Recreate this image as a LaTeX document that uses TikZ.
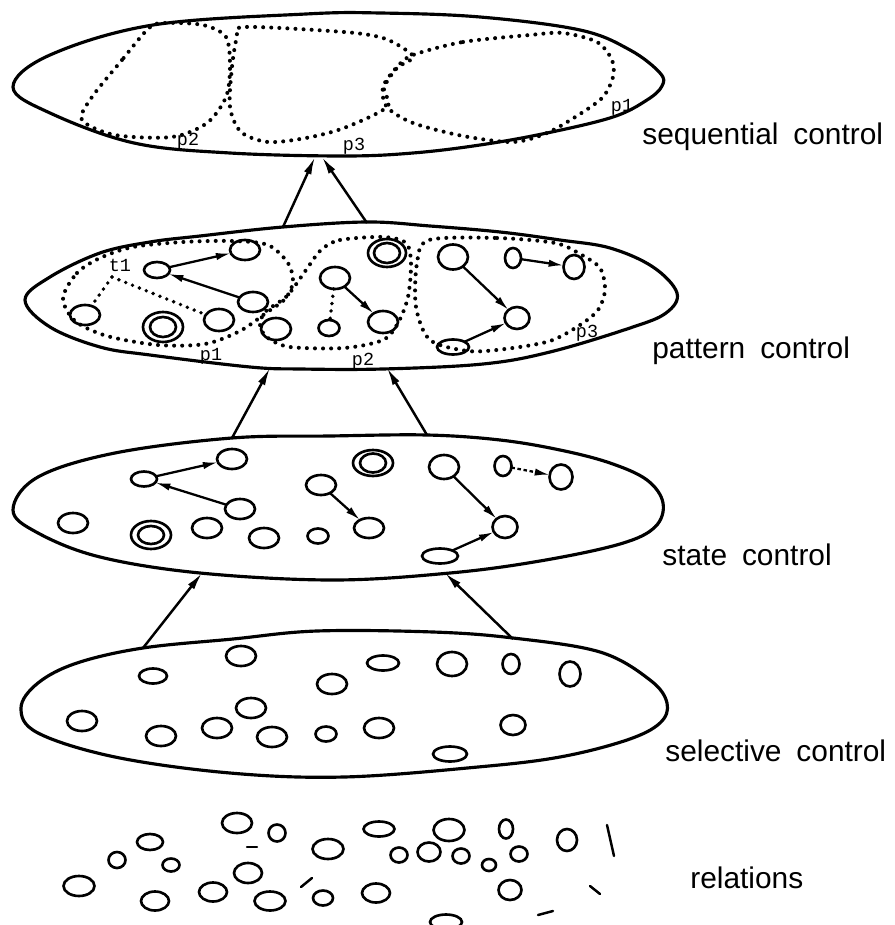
\documentclass[tikz,border=0pt]{standalone}
\usepackage{fontspec}
\setmainfont{Liberation Sans}
\newfontfamily\tagfont{Liberation Mono}
\usetikzlibrary{shapes.geometric,arrows.meta}

\tikzset{
  layer/.style={line width=1.8pt, line join=round},
  blob/.style={draw, ellipse, line width=1.5pt, inner sep=0pt, outer sep=0pt},
  region/.style={line width=2.3pt, line cap=round, dash pattern=on 0pt off 4.6pt},
  dotlink/.style={line width=2.2pt, line cap=round, dash pattern=on 0pt off 4.2pt},
  link/.style={line width=1.3pt, -{Latex[length=8.5pt,width=4.2pt]}},
  dashlink/.style={line width=1.3pt, dash pattern=on 2pt off 1.5pt, -{Latex[length=8.5pt,width=4.2pt]}},
  lift/.style={line width=1.4pt, -{Latex[length=10pt,width=4.5pt]}},
  stroke/.style={line width=1.4pt, line cap=round},
  caption/.style={anchor=base west, font=\fontsize{17}{20}\selectfont, inner sep=0pt},
  tag/.style={font=\tagfont\fontsize{10.5}{12}\selectfont, inner sep=0pt},
}

% \blob{name}{x,y}{rx}{ry}: a small hand-drawn style oval
\newcommand\blob[4]{\node[blob, minimum width=#3*0.04cm, minimum height=#4*0.04cm] (#1) at (#2) {};}

\begin{document}
\begin{tikzpicture}[x=0.02cm, y=-0.02cm]
\useasboundingbox (0,0) rectangle (894,925);

%% ---------------- sequential control ----------------
\draw[layer] plot[smooth cycle, tension=0.6] coordinates {
  (13,87) (50,55) (153,25) (306,14) (380,13) (480,17) (580,30) (630,50)
  (660,73) (662,86) (647,100) (613,117) (547,133) (480,145) (413,153)
  (344,156) (230,153) (134,143) (50,113)};
% pattern groups p2, p3, p1
\draw[region] plot[smooth cycle] coordinates {
  (149,28) (122,60) (92,97) (82,120) (115,135) (172,137) (207,123)
  (226,97) (230,67) (226,37) (203,25) (165,23)};
\draw[region] plot[smooth cycle] coordinates {
  (245,27) (344,32) (383,38) (406,50) (413,58) (397,68) (384,88) (387,107)
  (344,128) (306,138) (268,142) (241,132) (230,107) (232,67) (237,37)};
\draw[region] plot[smooth cycle] coordinates {
  (413,55) (463,42) (530,35) (563,33) (597,42) (612,60) (613,77) (603,97)
  (580,114) (547,133) (513,142) (463,136) (413,123) (387,107) (383,87) (397,67)};
\node[tag] (sq2) at (188,141) {p2};
\node[tag] (sq3) at (354,146) {p3};
\node[tag] (sq1) at (622,107) {p1};
\node[caption] (capseq) at (642,145) {sequential\hspace{0.5em}control};

%% ---------------- pattern control ----------------
\draw[layer] plot[smooth cycle, tension=0.6] coordinates {
  (25,300) (50,277) (100,253) (150,242) (200,236) (283,227) (367,222)
  (430,226) (500,232) (560,240) (610,248) (653,267) (677,293) (666,313)
  (630,328) (550,352) (483,364) (383,369) (300,369) (250,367)
  (150,355) (100,347) (50,327)};
\draw[region] plot[smooth cycle] coordinates {
  (63,298) (77,273) (100,258) (133,247) (183,242) (233,241) (268,245)
  (288,263) (293,282) (285,299) (266,313) (240,331) (205,344) (158,345)
  (107,336) (75,321)};
\draw[region] plot[smooth cycle] coordinates {
  (321,250) (340,240) (383,237) (406,243) (411,263) (408,297) (398,323)
  (383,340) (344,348) (290,347) (268,338) (260,326) (265,312) (287,296) (306,270)};
\draw[region] plot[smooth cycle] coordinates {
  (429,240) (497,238) (555,243) (580,254) (600,268) (605,290) (598,310)
  (580,325) (550,341) (505,349) (468,351) (430,340) (416,307) (417,263)};

\blob{pa}{157,270}{13}{8}
\blob{pb}{245,250}{15}{10}
\blob{pc}{253,302}{15}{10}
\blob{pd}{85,315}{15}{10}
\blob{pe}{163,327}{20}{15}
\blob{pee}{163,327}{13}{10}
\blob{pf}{219,320}{15}{11}
\blob{pg}{276,329}{15}{11}
\blob{ph}{335,278}{15}{11}
\blob{pi}{329,328}{10.5}{8}
\blob{pj}{383,322}{15}{11}
\blob{pk}{387,253}{19}{14}
\blob{pkk}{387,253}{13}{10}
\blob{pl}{453,257}{15}{12.5}
\blob{pm}{513,258}{8}{10}
\blob{pn}{574,267}{10.5}{12}
\blob{po}{517,318}{12.5}{11}
\blob{pq}{453,347}{16}{7.5}

\draw[link] (pa) -- (pb);
\draw[link] (pc) -- (pa);
\draw[link] (ph) -- (pj);
\draw[link] (pl) -- (po);
\draw[link] (pm) -- (pn);
\draw[link] (pq) -- (po);
\coordinate (tone) at (112,277);
\draw[dotlink] (tone) -- (pd);
\draw[dotlink] (tone) -- (pf);
\draw[dotlink] (ph) -- (pi);

\node[tag] (ttl) at (120,265) {t1};
\node[tag] (pp1) at (211,356) {p1};
\node[tag] (pp2) at (363,361) {p2};
\node[tag] (pp3) at (587,333) {p3};
\node[caption] (cappat) at (652,358) {pattern\hspace{0.5em}control};

%% ---------------- state control ----------------
\draw[layer] plot[smooth cycle, tension=0.6] coordinates {
  (13,510) (38,477) (115,453) (232,438) (330,436) (427,435) (500,440)
  (560,450) (610,463) (647,480) (663,503) (655,527) (620,544)
  (540,561) (450,573) (333,580) (200,573) (100,557) (38,533)};

\blob{sa}{144,479}{13}{7.5}
\blob{sb}{232,459}{15}{10}
\blob{sc}{240,509}{15}{10}
\blob{sd}{73,523}{15}{10}
\blob{se}{151,535}{20}{14}
\blob{see}{151,535}{13}{9}
\blob{sf}{207,528}{15}{10}
\blob{sg}{264,538}{15}{10}
\blob{sh}{318,536}{10.5}{7.5}
\blob{si}{321,485}{15}{10}
\blob{sj}{369,528}{15}{10}
\blob{sk}{373,463}{20}{13}
\blob{skk}{373,463}{13}{9.5}
\blob{sl}{444,467}{15}{12}
\blob{sm}{503,466}{8.5}{10}
\blob{sn}{561,477}{11.5}{12.5}
\blob{so}{505,527}{12.5}{11}
\blob{sq}{440,556}{18}{7.5}

\draw[link] (sa) -- (sb);
\draw[link] (sc) -- (sa);
\draw[link] (si) -- (sj);
\draw[link] (sl) -- (so);
\draw[dashlink] (sm) -- (sn);
\draw[link] (sq) -- (so);
\node[caption] (capsta) at (662,565) {state\hspace{0.5em}control};

%% ---------------- selective control ----------------
\draw[layer] plot[smooth cycle, tension=0.6] coordinates {
  (21,708) (38,683) (77,663) (143,648) (233,639) (317,631) (433,632)
  (513,638) (600,652) (650,680) (667,703) (660,723) (627,740) (560,757)
  (478,767) (344,777) (230,773) (115,757) (38,733)};

\blob{ca}{153,676}{14}{7.5}
\blob{cb}{241,656}{15}{10}
\blob{cc}{383,663}{16}{7.5}
\blob{cd}{332,684}{15}{10}
\blob{ce}{452,664}{15}{12}
\blob{cf}{511,664}{8.5}{10}
\blob{cg}{570,674}{10.5}{12.5}
\blob{ch}{251,708}{15}{10}
\blob{ci}{82,721}{15}{10}
\blob{cj}{161,736}{15}{10}
\blob{ck}{217,728}{15}{10}
\blob{cl}{272,737}{15}{10}
\blob{cm}{326,734}{10.5}{7.5}
\blob{cn}{379,728}{15}{10}
\blob{co}{513,725}{12.5}{10}
\blob{cq}{450,754}{17}{7.5}
\node[caption] (capsel) at (665,761) {selective\hspace{0.5em}control};

%% ---------------- relations ----------------
\blob{ra}{237,823}{15}{10}
\blob{rb}{277,833}{8.5}{8.5}
\blob{rc}{150,842}{13}{8}
\blob{rd}{117,860}{8.5}{8}
\blob{re}{171,865}{8.5}{6.5}
\blob{rf}{379,829}{15.5}{7.5}
\blob{rg}{449,830}{15.5}{11}
\blob{rh}{506,829}{7}{9.5}
\blob{ri}{567,840}{10}{11}
\blob{rj}{328,849}{15.5}{10}
\blob{rk}{399,855}{8.5}{7.5}
\blob{rl}{429,852}{11.5}{9.5}
\blob{rm}{461,856}{8.5}{7.5}
\blob{rn}{489,865}{7}{6}
\blob{ro}{519,854}{8.5}{7.5}
\blob{rp}{248,873}{14}{10}
\blob{rq}{79,886}{15.5}{10}
\blob{rr}{155,901}{14}{9.5}
\blob{rs}{213,892}{14}{9.5}
\blob{rt}{270,901}{15.5}{9.5}
\blob{ru}{323,898}{10}{7.5}
\blob{rv}{376,893}{14}{9.5}
\blob{rw}{510,890}{11.5}{10}
\blob{rx}{446,922}{16}{7.5}
\draw[stroke] (247,847) -- (257,847);
\draw[stroke] (301,887) -- (312,878);
\draw[stroke] (607,825) -- (614,856);
\draw[stroke] (590,886) -- (600,894);
\draw[stroke] (538,915) -- (553,911);
\node[caption] (caprel) at (690,888) {relations};

%% ---------------- arrows between levels ----------------
\coordinate (seqL) at (315,157);
\coordinate (seqR) at (322,157);
\coordinate (patTL) at (283,227);
\coordinate (patTR) at (367,223);
\coordinate (patBL) at (270,368);
\coordinate (patBR) at (387,368);
\coordinate (staTL) at (232,438);
\coordinate (staTR) at (427,435);
\coordinate (staBL) at (202,573);
\coordinate (staBR) at (445,573);
\coordinate (selTL) at (143,648);
\coordinate (selTR) at (513,639);
\draw[lift] (patTL) -- (seqL);
\draw[lift] (patTR) -- (seqR);
\draw[lift] (staTL) -- (patBL);
\draw[lift] (staTR) -- (patBR);
\draw[lift] (selTL) -- (staBL);
\draw[lift] (selTR) -- (staBR);
\end{tikzpicture}
\end{document}
